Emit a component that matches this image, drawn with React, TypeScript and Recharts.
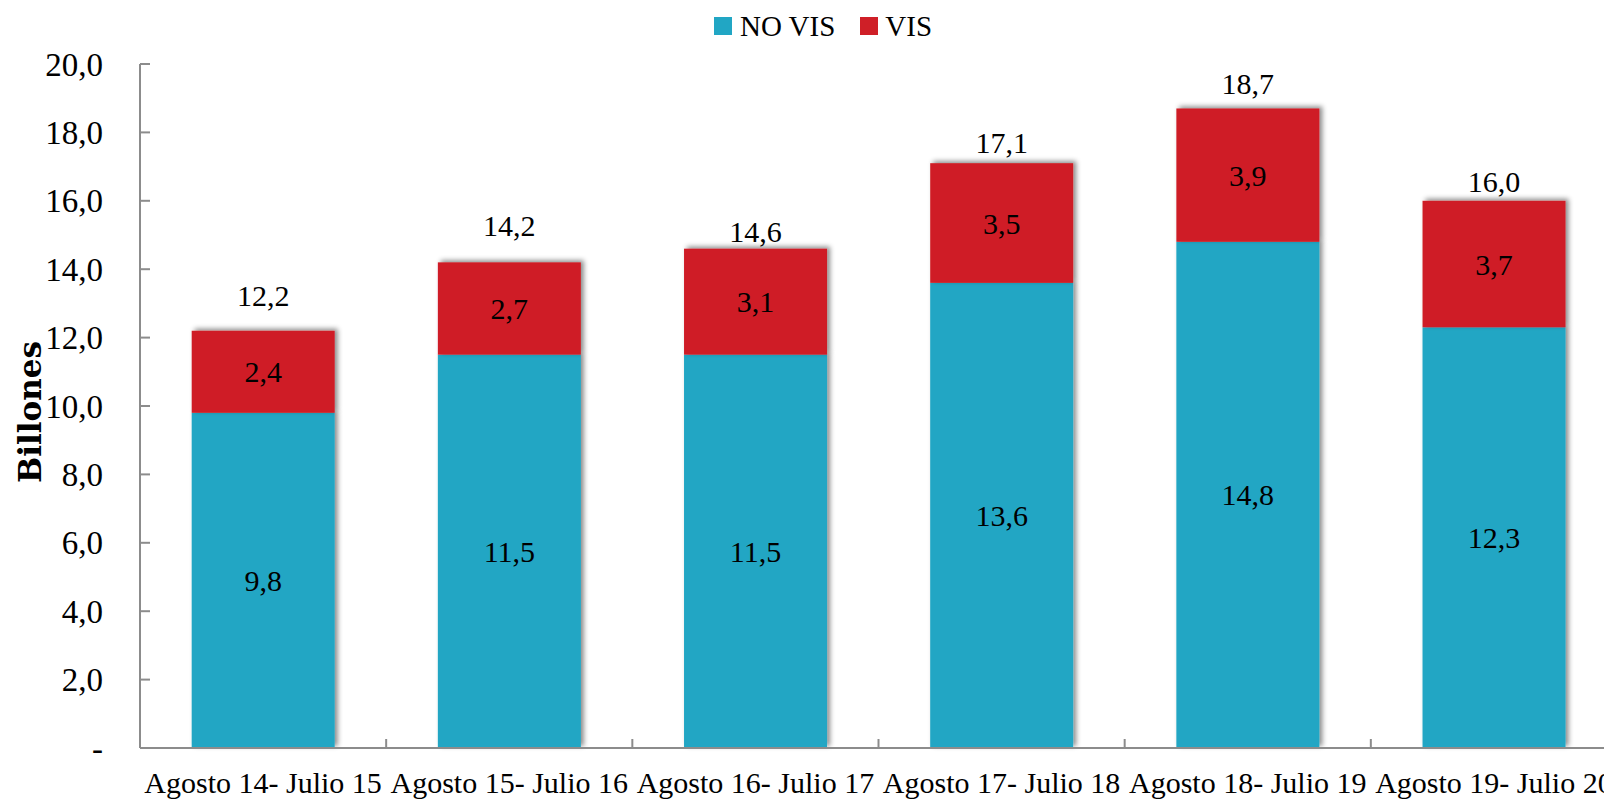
import { BarChart, Bar, XAxis, YAxis, Legend, LabelList } from "recharts";

const categories = [
  "Agosto 14- Julio 15",
  "Agosto 15- Julio 16",
  "Agosto 16- Julio 17",
  "Agosto 17- Julio 18",
  "Agosto 18- Julio 19",
  "Agosto 19- Julio 20",
];
const noVis = [9.8, 11.5, 11.5, 13.6, 14.8, 12.3];
const vis = [2.4, 2.7, 3.1, 3.5, 3.9, 3.7];
const totals = [12.2, 14.2, 14.6, 17.1, 18.7, 16.0];
const yTicks = [0, 2, 4, 6, 8, 10, 12, 14, 16, 18, 20];

// gap (px) between bar top and total label baseline, placed by hand in the original
const totalLabelGaps = [25, 26, 7, 10, 14, 9];

const data = categories.map((name, i) => ({
  name,
  noVis: noVis[i],
  vis: vis[i],
  total: totals[i],
}));

const BLUE = "#21a6c4";
const RED = "#cf1f27";
const AXIS = "#8c8c8c";
const FONT = "'Liberation Serif', serif";

const fmt = (v: number) => (v === 0 ? "-" : v.toFixed(1).replace(".", ","));

const box = (p: any) => p.viewBox ?? { x: p.x, y: p.y, width: p.width, height: p.height };

const CenterLabel = (p: any) => {
  const b = box(p);
  return (
    <text x={b.x + b.width / 2} y={b.y + b.height / 2} dy="0.35em" textAnchor="middle"
      fontFamily={FONT} fontSize={30} fill="#000">
      {fmt(Number(p.value))}
    </text>
  );
};

const TotalLabel = (p: any) => {
  const b = box(p);
  const gap = totalLabelGaps[p.index] ?? 20;
  return (
    <text x={b.x + b.width / 2} y={b.y - gap} textAnchor="middle"
      fontFamily={FONT} fontSize={30} fill="#000">
      {fmt(Number(p.value))}
    </text>
  );
};

const YTick = (p: any) => {
  const { x, y, payload } = p;
  return (
    <g>
      <line x1={x} x2={x + 10} y1={y} y2={y} stroke={AXIS} strokeWidth={2} />
      <text x={x - 37} y={y} dy="0.35em" textAnchor="end" fontFamily={FONT} fontSize={33} fill="#000">
        {fmt(payload.value)}
      </text>
    </g>
  );
};

const XTick = (p: any) => {
  const { x, y, payload, width, visibleTicksCount } = p;
  const bw = width / visibleTicksCount;
  return (
    <g>
      <line x1={x - bw / 2} x2={x - bw / 2} y1={y} y2={y - 9} stroke={AXIS} strokeWidth={2} />
      <text x={x} y={y + 45} textAnchor="middle" fontFamily={FONT} fontSize={30} fill="#000">
        {payload.value}
      </text>
    </g>
  );
};

const ShadowBar = (p: any) => {
  const { x, y, width, height, fill } = p;
  if (!height) return null;
  return <rect x={x} y={y} width={width} height={height} fill={fill} filter="url(#barShadow)" />;
};

const LegendContent = () => (
  <div style={{ display: "flex", alignItems: "center", fontFamily: FONT, fontSize: 29, lineHeight: "34px", color: "#000" }}>
    <span style={{ width: 18, height: 18, background: BLUE, display: "inline-block", marginRight: 8 }} />
    <span>NO VIS</span>
    <span style={{ width: 18, height: 18, background: RED, display: "inline-block", marginLeft: 25, marginRight: 7 }} />
    <span>VIS</span>
  </div>
);

export default function App() {
  return (
    <div style={{ position: "fixed", left: 0, top: 0, width: 1604, height: 801, overflow: "hidden", background: "#fff" }}>
      <svg width={0} height={0} style={{ position: "absolute" }}>
        <defs>
          <filter id="barShadow" x="-20%" y="-20%" width="140%" height="140%">
            <feDropShadow dx={3} dy={-2} stdDeviation={2.5} floodColor="#000" floodOpacity={0.45} />
          </filter>
        </defs>
      </svg>
      <BarChart width={1620} height={801} data={data} margin={{ top: 64, right: 3, bottom: 0, left: 0 }}
        barCategoryGap="21%">
        <XAxis dataKey="name" height={53} tickSize={0} tickMargin={0} tick={<XTick />}
          axisLine={{ stroke: AXIS, strokeWidth: 2 }} tickLine={false} interval={0} />
        <YAxis width={140} domain={[0, 20]} ticks={yTicks} tickSize={0} tickMargin={0}
          tick={<YTick />} axisLine={{ stroke: AXIS, strokeWidth: 2 }} tickLine={false}
          label={{ value: "Billones", angle: -90, position: "insideLeft", dx: 25, dy: 6,
            style: { fontFamily: "'DejaVu Serif', serif", fontWeight: "bold", fontSize: 31, fill: "#000", textAnchor: "middle" } }} />
        <Legend verticalAlign="middle" align="center" layout="horizontal" content={<LegendContent />}
          wrapperStyle={{ top: 9, left: 714, width: 260, height: 34 }} />
        <Bar dataKey="noVis" name="NO VIS" stackId="a" fill={BLUE} shape={<ShadowBar />} isAnimationActive={false}>
          <LabelList dataKey="noVis" position="center" content={<CenterLabel />} />
        </Bar>
        <Bar dataKey="vis" name="VIS" stackId="a" fill={RED} shape={<ShadowBar />} isAnimationActive={false}>
          <LabelList dataKey="vis" position="center" content={<CenterLabel />} />
          <LabelList dataKey="total" position="top" content={<TotalLabel />} />
        </Bar>
      </BarChart>
    </div>
  );
}
